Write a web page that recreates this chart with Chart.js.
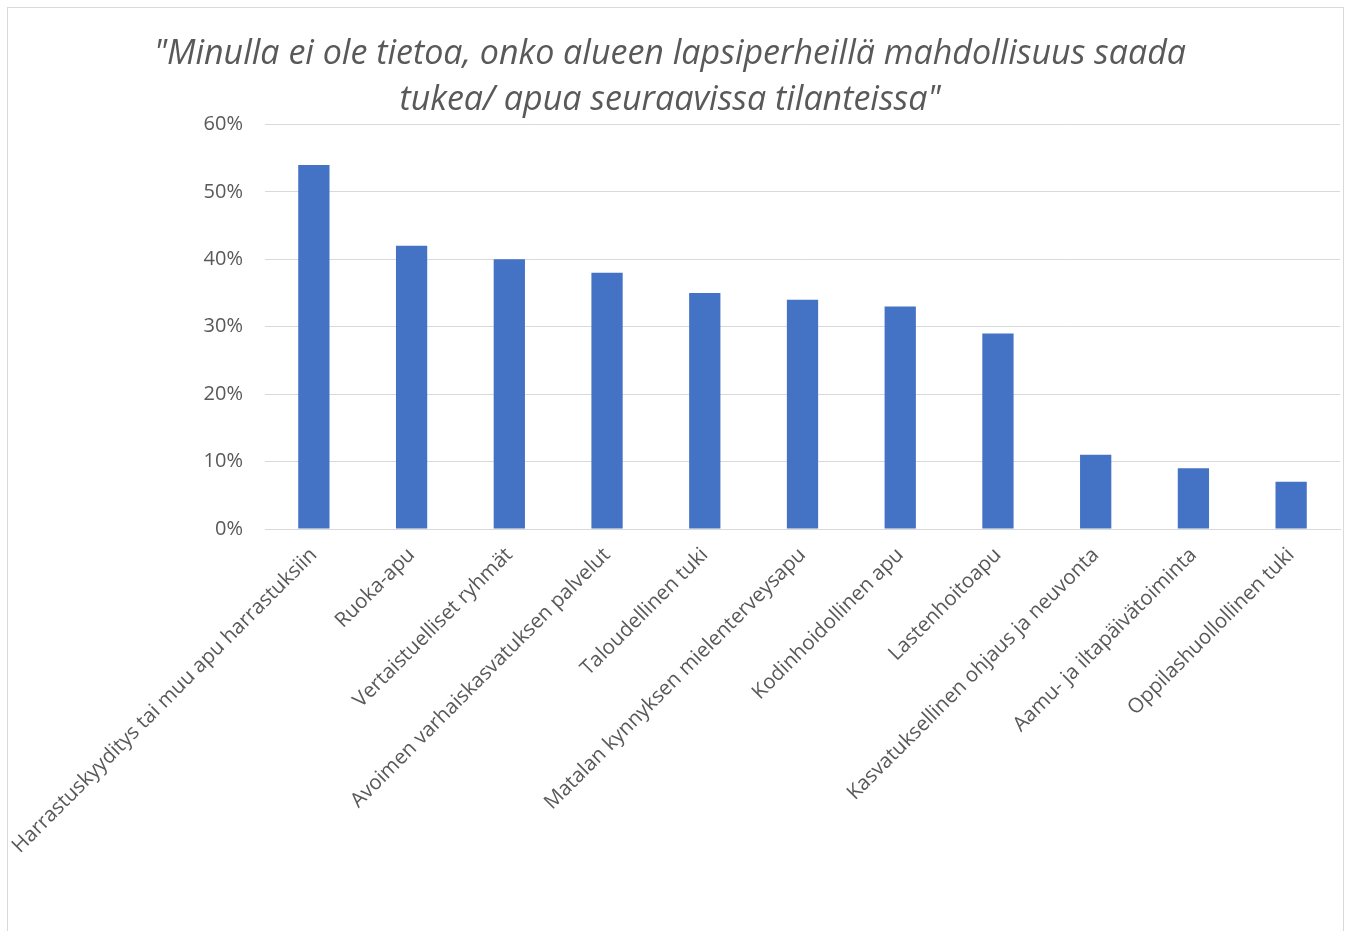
<!DOCTYPE html>
<html>
<head>
<meta charset="utf-8">
<script src="https://cdn.jsdelivr.net/npm/chart.js@4"></script>
<style>
  html, body { margin: 0; padding: 0; background: #ffffff; }
  #wrap { position: relative; width: 1347px; height: 931px; overflow: hidden; }
  #frame { position: absolute; left: 7px; top: 7px; width: 1337px; height: 940px; border: 1px solid #d9d9d9; box-sizing: border-box; pointer-events: none; }
  canvas { position: absolute; left: 0; top: 0; }
</style>
</head>
<body>
<div id="wrap">
  <canvas id="c" width="1347" height="931"></canvas>
  <div id="frame"></div>
</div>
<script>
const titleLines = ['"Minulla ei ole tietoa, onko alueen lapsiperheillä mahdollisuus saada', 'tukea/ apua seuraavissa tilanteissa"'];
const categories = [
  'Harrastuskyyditys tai muu apu harrastuksiin',
  'Ruoka-apu',
  'Vertaistuelliset ryhmät',
  'Avoimen varhaiskasvatuksen palvelut',
  'Taloudellinen tuki',
  'Matalan kynnyksen mielenterveysapu',
  'Kodinhoidollinen apu',
  'Lastenhoitoapu',
  'Kasvatuksellinen ohjaus ja neuvonta',
  'Aamu- ja iltapäivätoiminta',
  'Oppilashuollollinen tuki'
];
const values = [54, 42, 40, 38, 35, 34, 33, 29, 11, 9, 7];
const yTicks = [0, 10, 20, 30, 40, 50, 60];

const FONT = '"Open Sans", Lato, "Liberation Sans", sans-serif';

new Chart(document.getElementById('c'), {
  type: 'bar',
  data: {
    labels: categories,
    datasets: [{
      data: values,
      backgroundColor: '#4472c4',
      borderWidth: 0,
      barPercentage: 0.64,
      categoryPercentage: 0.5
    }]
  },
  options: {
    responsive: false,
    animation: false,
    layout: { padding: { left: 0, right: 7, top: 0, bottom: 0 } },
    plugins: {
      legend: { display: false },
      tooltip: { enabled: false },
      title: {
        display: true,
        text: titleLines,
        color: '#595959',
        font: { family: FONT, size: 34, style: 'italic', weight: 'normal', lineHeight: 1.36 },
        padding: { top: 31, bottom: 1 }
      }
    },
    scales: {
      x: {
        grid: { display: false, drawTicks: false },
        border: { display: true, color: '#d9d9d9', width: 1 },
        ticks: {
          color: '#595959',
          font: { family: FONT, size: 20.5 },
          maxRotation: 45,
          minRotation: 45,
          autoSkip: false,
          padding: 14
        },
        afterFit: function (s) {
          s.height = 931 - 529;
          s.paddingLeft = 0;
          s.paddingRight = 0;
        }
      },
      y: {
        min: 0,
        max: 60,
        afterBuildTicks: function (s) { s.ticks = yTicks.map(v => ({ value: v })); },
        grid: { color: '#d9d9d9', lineWidth: 1, drawTicks: false },
        border: { display: false },
        ticks: {
          color: '#595959',
          font: { family: FONT, size: 20 },
          padding: 22,
          callback: function (v) { return v + '%'; }
        },
        afterFit: function (s) { s.width = 265; }
      }
    }
  }
});
</script>
</body>
</html>
